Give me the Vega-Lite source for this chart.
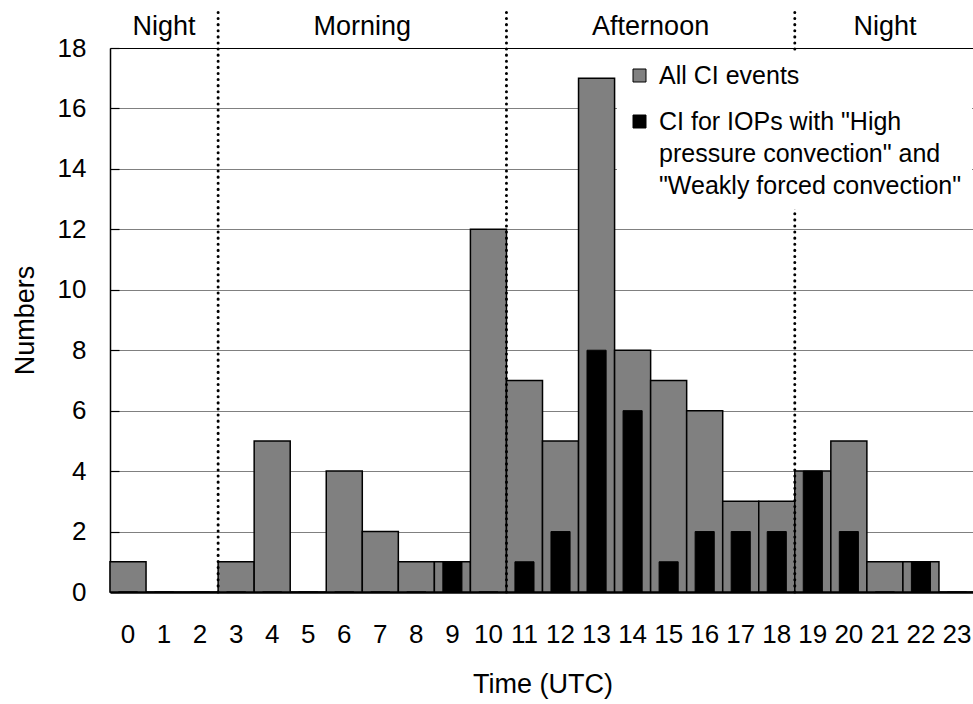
{
  "$schema": "https://vega.github.io/schema/vega-lite/v6.json",
  "width": 865,
  "height": 544,
  "autosize": {"type": "none"},
  "padding": {"left": 110, "top": 48, "right": 0, "bottom": 112},
  "background": "white",
  "config": {
    "font": "Liberation Sans",
    "view": {"stroke": null},
    "style": {"guide-label": {"lineHeight": 32}},
    "axis": {
      "labelColor": "black",
      "titleColor": "black",
      "titleFontWeight": "normal",
      "labelFont": "Liberation Sans",
      "titleFont": "Liberation Sans"
    }
  },
  "datasets": {
    "hours": [
      {"hour": 0, "all": 1, "sel": 0},
      {"hour": 1, "all": 0, "sel": 0},
      {"hour": 2, "all": 0, "sel": 0},
      {"hour": 3, "all": 1, "sel": 0},
      {"hour": 4, "all": 5, "sel": 0},
      {"hour": 5, "all": 0, "sel": 0},
      {"hour": 6, "all": 4, "sel": 0},
      {"hour": 7, "all": 2, "sel": 0},
      {"hour": 8, "all": 1, "sel": 0},
      {"hour": 9, "all": 1, "sel": 1},
      {"hour": 10, "all": 12, "sel": 0},
      {"hour": 11, "all": 7, "sel": 1},
      {"hour": 12, "all": 5, "sel": 2},
      {"hour": 13, "all": 17, "sel": 8},
      {"hour": 14, "all": 8, "sel": 6},
      {"hour": 15, "all": 7, "sel": 1},
      {"hour": 16, "all": 6, "sel": 2},
      {"hour": 17, "all": 3, "sel": 2},
      {"hour": 18, "all": 3, "sel": 2},
      {"hour": 19, "all": 4, "sel": 4},
      {"hour": 20, "all": 5, "sel": 2},
      {"hour": 21, "all": 1, "sel": 0},
      {"hour": 22, "all": 1, "sel": 1},
      {"hour": 23, "all": 0, "sel": 0}
    ],
    "periods": [
      {"name": "Night", "start": 0, "end": 3, "mid": 1.5},
      {"name": "Morning", "start": 3, "end": 11, "mid": 7},
      {"name": "Afternoon", "start": 11, "end": 19, "mid": 15},
      {"name": "Night", "start": 19, "end": 24, "mid": 21.5}
    ]
  },
  "layer": [
    {
      "data": {"name": "hours"},
      "layer": [
        {
          "mark": {"type": "bar", "stroke": "black", "strokeWidth": 1.5},
          "encoding": {
            "x": {
              "field": "hour",
              "type": "ordinal",
              "scale": {"paddingInner": 0, "paddingOuter": 0},
              "axis": {
                "title": "Time (UTC)",
                "labelAngle": 0,
                "ticks": false,
                "domainColor": "black",
                "domainWidth": 2.5,
                "labelFontSize": 26,
                "labelPadding": 29,
                "titleFontSize": 27,
                "titlePadding": 24,
                "grid": false
              }
            },
            "y": {
              "field": "all",
              "type": "quantitative",
              "scale": {"domain": [0, 18], "nice": false},
              "axis": {
                "title": "Numbers",
                "values": [0, 2, 4, 6, 8, 10, 12, 14, 16, 18],
                "grid": true,
                "gridColor": {
                  "condition": {"test": "datum.value === 18", "value": "black"},
                  "value": "#808080"
                },
                "gridWidth": 1.2,
                "ticks": true,
                "tickSize": -9,
                "tickColor": "black",
                "tickWidth": 1.2,
                "domainColor": "black",
                "domainWidth": 1.5,
                "labelFontSize": 26,
                "labelPadding": 33,
                "titleFontSize": 27,
                "titlePadding": 18
              }
            },
            "color": {
              "datum": "All CI events",
              "scale": {
                "domain": [
                  "All CI events",
                  "CI for IOPs with \"High pressure convection\" and \"Weakly forced convection\""
                ],
                "range": ["#808080", "#000000"]
              },
              "legend": {
                "title": null,
                "orient": "none",
                "legendX": 507,
                "legendY": 5,
                "zindex": 1,
                "fillColor": "white",
                "padding": 10,
                "symbolType": "square",
                "symbolSize": 169,
                "symbolStrokeColor": "black",
                "symbolStrokeWidth": 1,
                "labelFontSize": 25,
                "labelColor": "black",
                "labelLimit": 600,
                "labelOffset": 7,
                "rowPadding": 20,
                "labelExpr": "indexof(datum.label, 'IOPs') >= 0 ? ['CI for IOPs with \"High', 'pressure convection\" and', '\"Weakly forced convection\"'] : datum.label"
              }
            }
          }
        },
        {
          "mark": {"type": "bar", "stroke": "black", "strokeWidth": 1, "width": {"band": 0.53}},
          "encoding": {
            "x": {"field": "hour", "type": "ordinal"},
            "y": {"field": "sel", "type": "quantitative", "scale": {"domain": [0, 18], "nice": false}},
            "color": {
              "datum": "CI for IOPs with \"High pressure convection\" and \"Weakly forced convection\""
            }
          }
        }
      ]
    },
    {
      "data": {"name": "periods"},
      "transform": [{"filter": "datum.start > 0"}],
      "mark": {
        "type": "rule",
        "color": "black",
        "strokeWidth": 3,
        "strokeDash": [0.1, 6],
        "strokeCap": "round"
      },
      "encoding": {
        "x": {"field": "start", "type": "quantitative", "scale": {"domain": [0, 24], "nice": false, "zero": false}, "axis": null},
        "y": {"datum": 0, "type": "quantitative", "scale": {"domain": [0, 18], "nice": false}},
        "y2": {"datum": 19.25}
      }
    },
    {
      "data": {"name": "periods"},
      "mark": {"type": "text", "fontSize": 27, "baseline": "alphabetic", "align": "center", "dy": -13, "color": "black"},
      "encoding": {
        "x": {"field": "mid", "type": "quantitative", "scale": {"domain": [0, 24], "nice": false, "zero": false}, "axis": null},
        "y": {"datum": 18, "type": "quantitative", "scale": {"domain": [0, 18], "nice": false}},
        "text": {"field": "name"}
      }
    }
  ],
  "resolve": {"scale": {"x": "independent"}}
}
